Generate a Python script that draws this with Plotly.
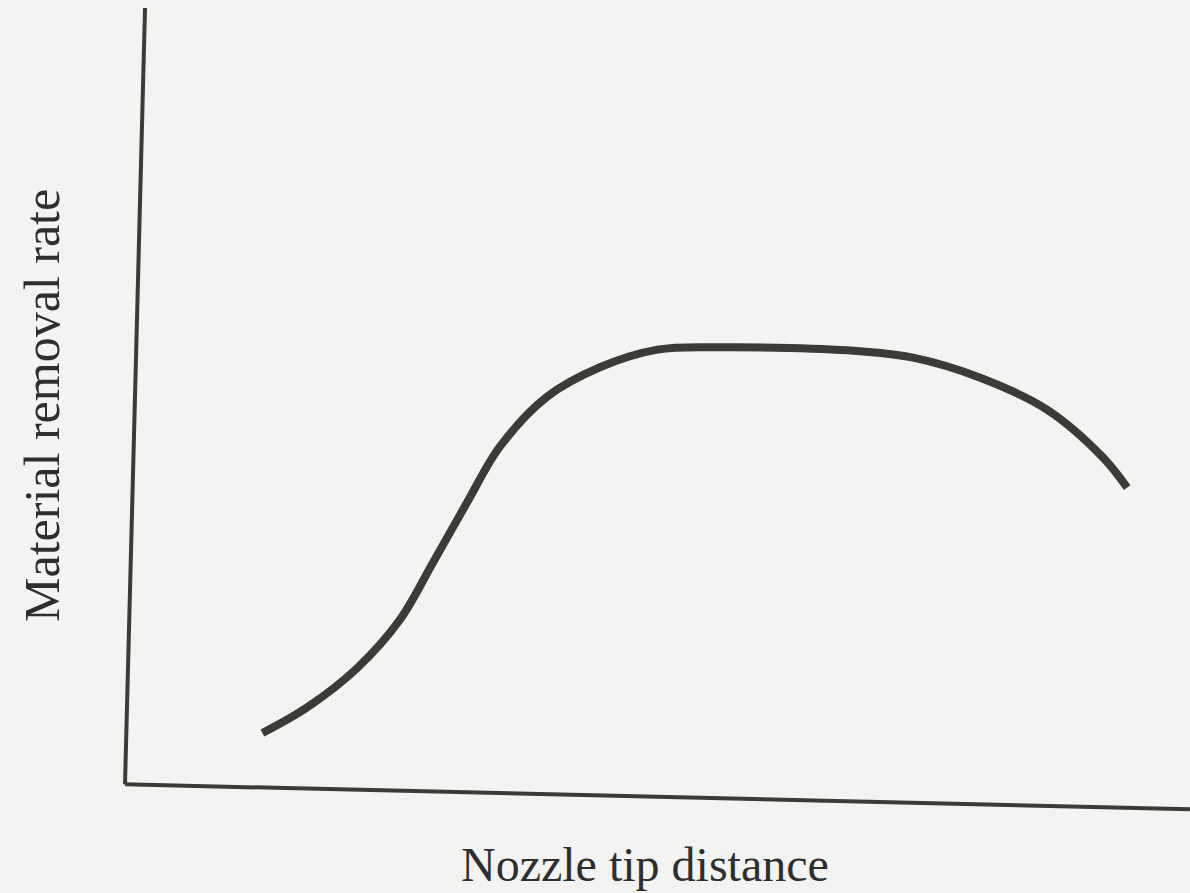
import plotly.graph_objects as go

# curve (arbitrary units, 0-100 on both axes)
nozzle_tip_distance = [12.9, 17.1, 21.8, 25.8, 28.9, 32.1, 35.2, 39.6, 44.6, 50.0,
                       55.9, 62.4, 69.0, 74.0, 80.3, 86.6, 91.8, 94.1]
removal_rate = [9.6, 12.8, 17.7, 23.7, 30.8, 38.3, 45.3, 51.5, 55.2, 57.4,
                57.7, 57.6, 57.2, 56.4, 53.9, 49.9, 44.0, 40.2]

x_label = "Nozzle tip distance"
y_label = "Material removal rate"

ink = "#3b3b38"
paper = "#f3f3f1"
serif = '"Liberation Serif", "Times New Roman", serif'

fig = go.Figure()
fig.add_trace(go.Scatter(x=nozzle_tip_distance, y=removal_rate, mode="lines",
                         line=dict(color=ink, width=8, shape="spline", smoothing=1.0),
                         hoverinfo="skip"))

# hand-drawn axes, slightly skewed like the scan
fig.add_shape(type="line", xref="paper", yref="paper", x0=0, y0=0.032, x1=0.0188, y1=1.0,
              line=dict(color=ink, width=4))
fig.add_shape(type="line", xref="paper", yref="paper", x0=0, y0=0.032, x1=1.0, y1=0.001,
              line=dict(color=ink, width=4))

fig.add_annotation(text=x_label, xref="paper", yref="paper", x=0.488, y=-0.068,
                   showarrow=False, xanchor="center", yanchor="middle",
                   font=dict(family=serif, size=48, color="#2e2e2e"))
fig.add_annotation(text=y_label, xref="paper", yref="paper", x=-0.078, y=0.505,
                   showarrow=False, textangle=-90, xanchor="center", yanchor="middle",
                   font=dict(family=serif, size=50, color="#2e2e2e"))

fig.update_xaxes(range=[0, 100], visible=False, fixedrange=True)
fig.update_yaxes(range=[0, 100], visible=False, fixedrange=True)
fig.update_layout(width=1190, height=893, showlegend=False,
                  margin=dict(l=125, r=0, t=8, b=83),
                  paper_bgcolor=paper, plot_bgcolor=paper)

fig.write_html("out.html", config={"displayModeBar": False},
               post_script="document.body.style.margin='0';document.body.style.overflow='hidden';")
